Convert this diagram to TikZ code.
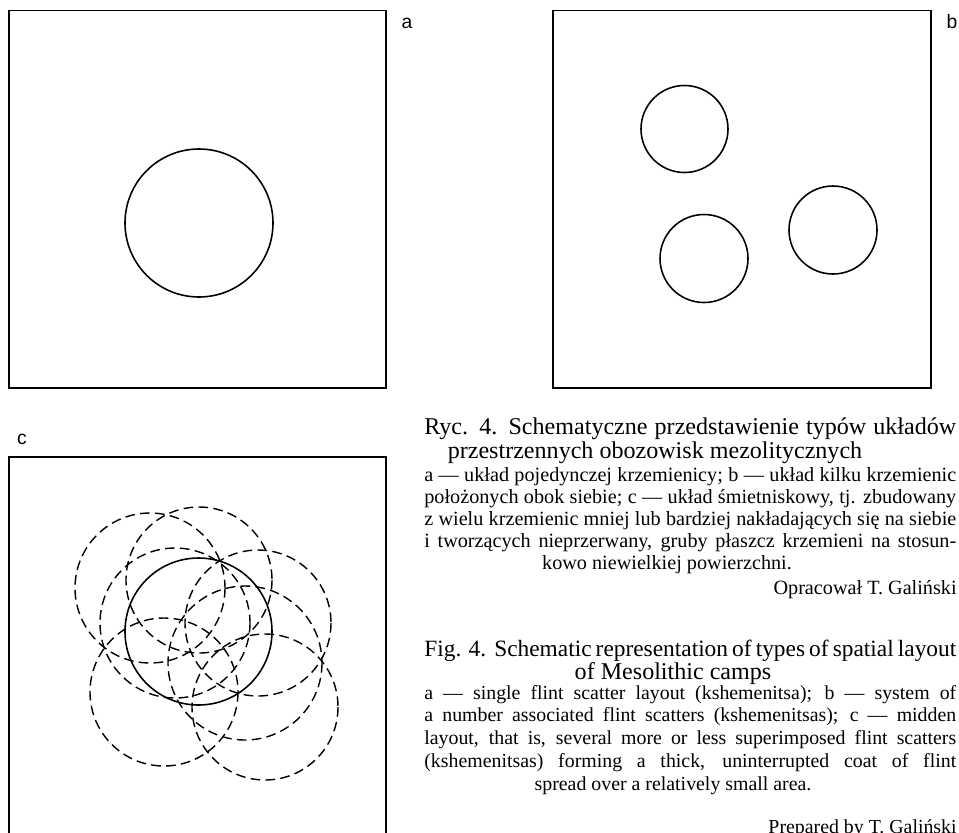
\documentclass[tikz,border=0pt]{standalone}
\usepackage{fontspec}
\setmainfont{Liberation Serif}
\newfontfamily\panelfont{Liberation Sans}
\newlength\colw
\setlength\colw{10.64cm}

\tikzset{
  panel/.style={draw, line width=1.1pt},
  flint/.style={line width=0.9pt},
  flintdash/.style={line width=0.8pt, dash pattern=on 5.5pt off 3pt},
  tag/.style={font=\panelfont\fontsize{11}{13}\selectfont, inner sep=0pt},
  ttl/.style={inner sep=0pt, font=\fontsize{13.7}{16}\selectfont},
  txt/.style={inner sep=0pt, font=\fontsize{11.3}{13}\selectfont},
  txtpl/.style={inner sep=0pt, font=\fontsize{11.5}{13}\selectfont},
}

\begin{document}
\begin{tikzpicture}[x=0.02cm, y=-0.02cm]
\useasboundingbox (0,0) rectangle (959,832);

% panels
\draw[panel] (9,10.5) rectangle (386,388);
\draw[panel] (553,10.5) rectangle (931,388);
\draw[panel] (9,457) rectangle (386,860);
\node[tag] (tag-a) at (407,23) {a};
\node[tag] (tag-b) at (952,22) {b};
\node[tag] (tag-c) at (22,439) {c};

% a: single scatter
\draw[flint] (199,223) circle[radius=74];

% b: several scatters
\draw[flint] (684.5,129) circle[radius=43.5];
\draw[flint] (704,258.5) circle[radius=44];
\draw[flint] (833,230) circle[radius=44];

% c: midden
\draw[flint] (198.5,631.5) circle[radius=73.5];
\draw[flintdash] (199,580) circle[radius=73];
\draw[flintdash] (150,588) circle[radius=75];
\draw[flintdash] (175,623) circle[radius=75];
\draw[flintdash] (164,692) circle[radius=74];
\draw[flintdash] (265,707) circle[radius=73];
\draw[flintdash] (245,663) circle[radius=77];
\draw[flintdash] (258,623) circle[radius=73];

% caption pl
\node[ttl, anchor=base west] (pl-t1) at (424,434) {\makebox[\colw][s]{Ryc. 4. Schematyczne przedstawienie typów układów}};
\node[ttl, anchor=base] (pl-t2) at (655,458) {przestrzennych obozowisk mezolitycznych};
\node[txtpl, anchor=base west] (pl-1) at (424,481) {\makebox[\colw][s]{a — układ pojedynczej krzemienicy; b — układ kilku krzemienic}};
\node[txtpl, anchor=base west] (pl-2) at (424,503) {\makebox[\colw][s]{położonych obok siebie; c — układ śmietniskowy, tj. zbudowany}};
\node[txtpl, anchor=base west] (pl-3) at (424,525) {\makebox[\colw][s]{z wielu krzemienic mniej lub bardziej nakładających się na siebie}};
\node[txtpl, anchor=base west] (pl-4) at (424,547) {\makebox[\colw][s]{i tworzących nieprzerwany, gruby płaszcz krzemieni na stosun-}};
\node[txtpl, anchor=base] (pl-5) at (667,569) {kowo niewielkiej powierzchni.};
\node[txtpl, anchor=base east] (pl-by) at (957,594) {Opracował T. Galiński};

% caption en
\node[ttl, anchor=base west, font=\fontsize{13.3}{16}\selectfont] (en-t1) at (424,656) {\makebox[\colw][s]{Fig. 4.\ \ Schematic representation of types of spatial layout}};
\node[ttl, anchor=base] (en-t2) at (673,679) {of Mesolithic camps};
\node[txt, anchor=base west] (en-1) at (424,699) {\makebox[\colw][s]{a — single flint scatter layout (kshemenitsa); b — system of}};
\node[txt, anchor=base west] (en-2) at (424,721) {\makebox[\colw][s]{a number associated flint scatters (kshemenitsas); c — midden}};
\node[txt, anchor=base west] (en-3) at (424,744) {\makebox[\colw][s]{layout, that is, several more or less superimposed flint scatters}};
\node[txt, anchor=base west] (en-4) at (424,767) {\makebox[\colw][s]{(kshemenitsas) forming a thick, uninterrupted coat of flint}};
\node[txt, anchor=base] (en-5) at (673,790) {spread over a relatively small area.};
\node[txt, anchor=base east] (en-by) at (957,833) {Prepared by T. Galiński};
\end{tikzpicture}
\end{document}
